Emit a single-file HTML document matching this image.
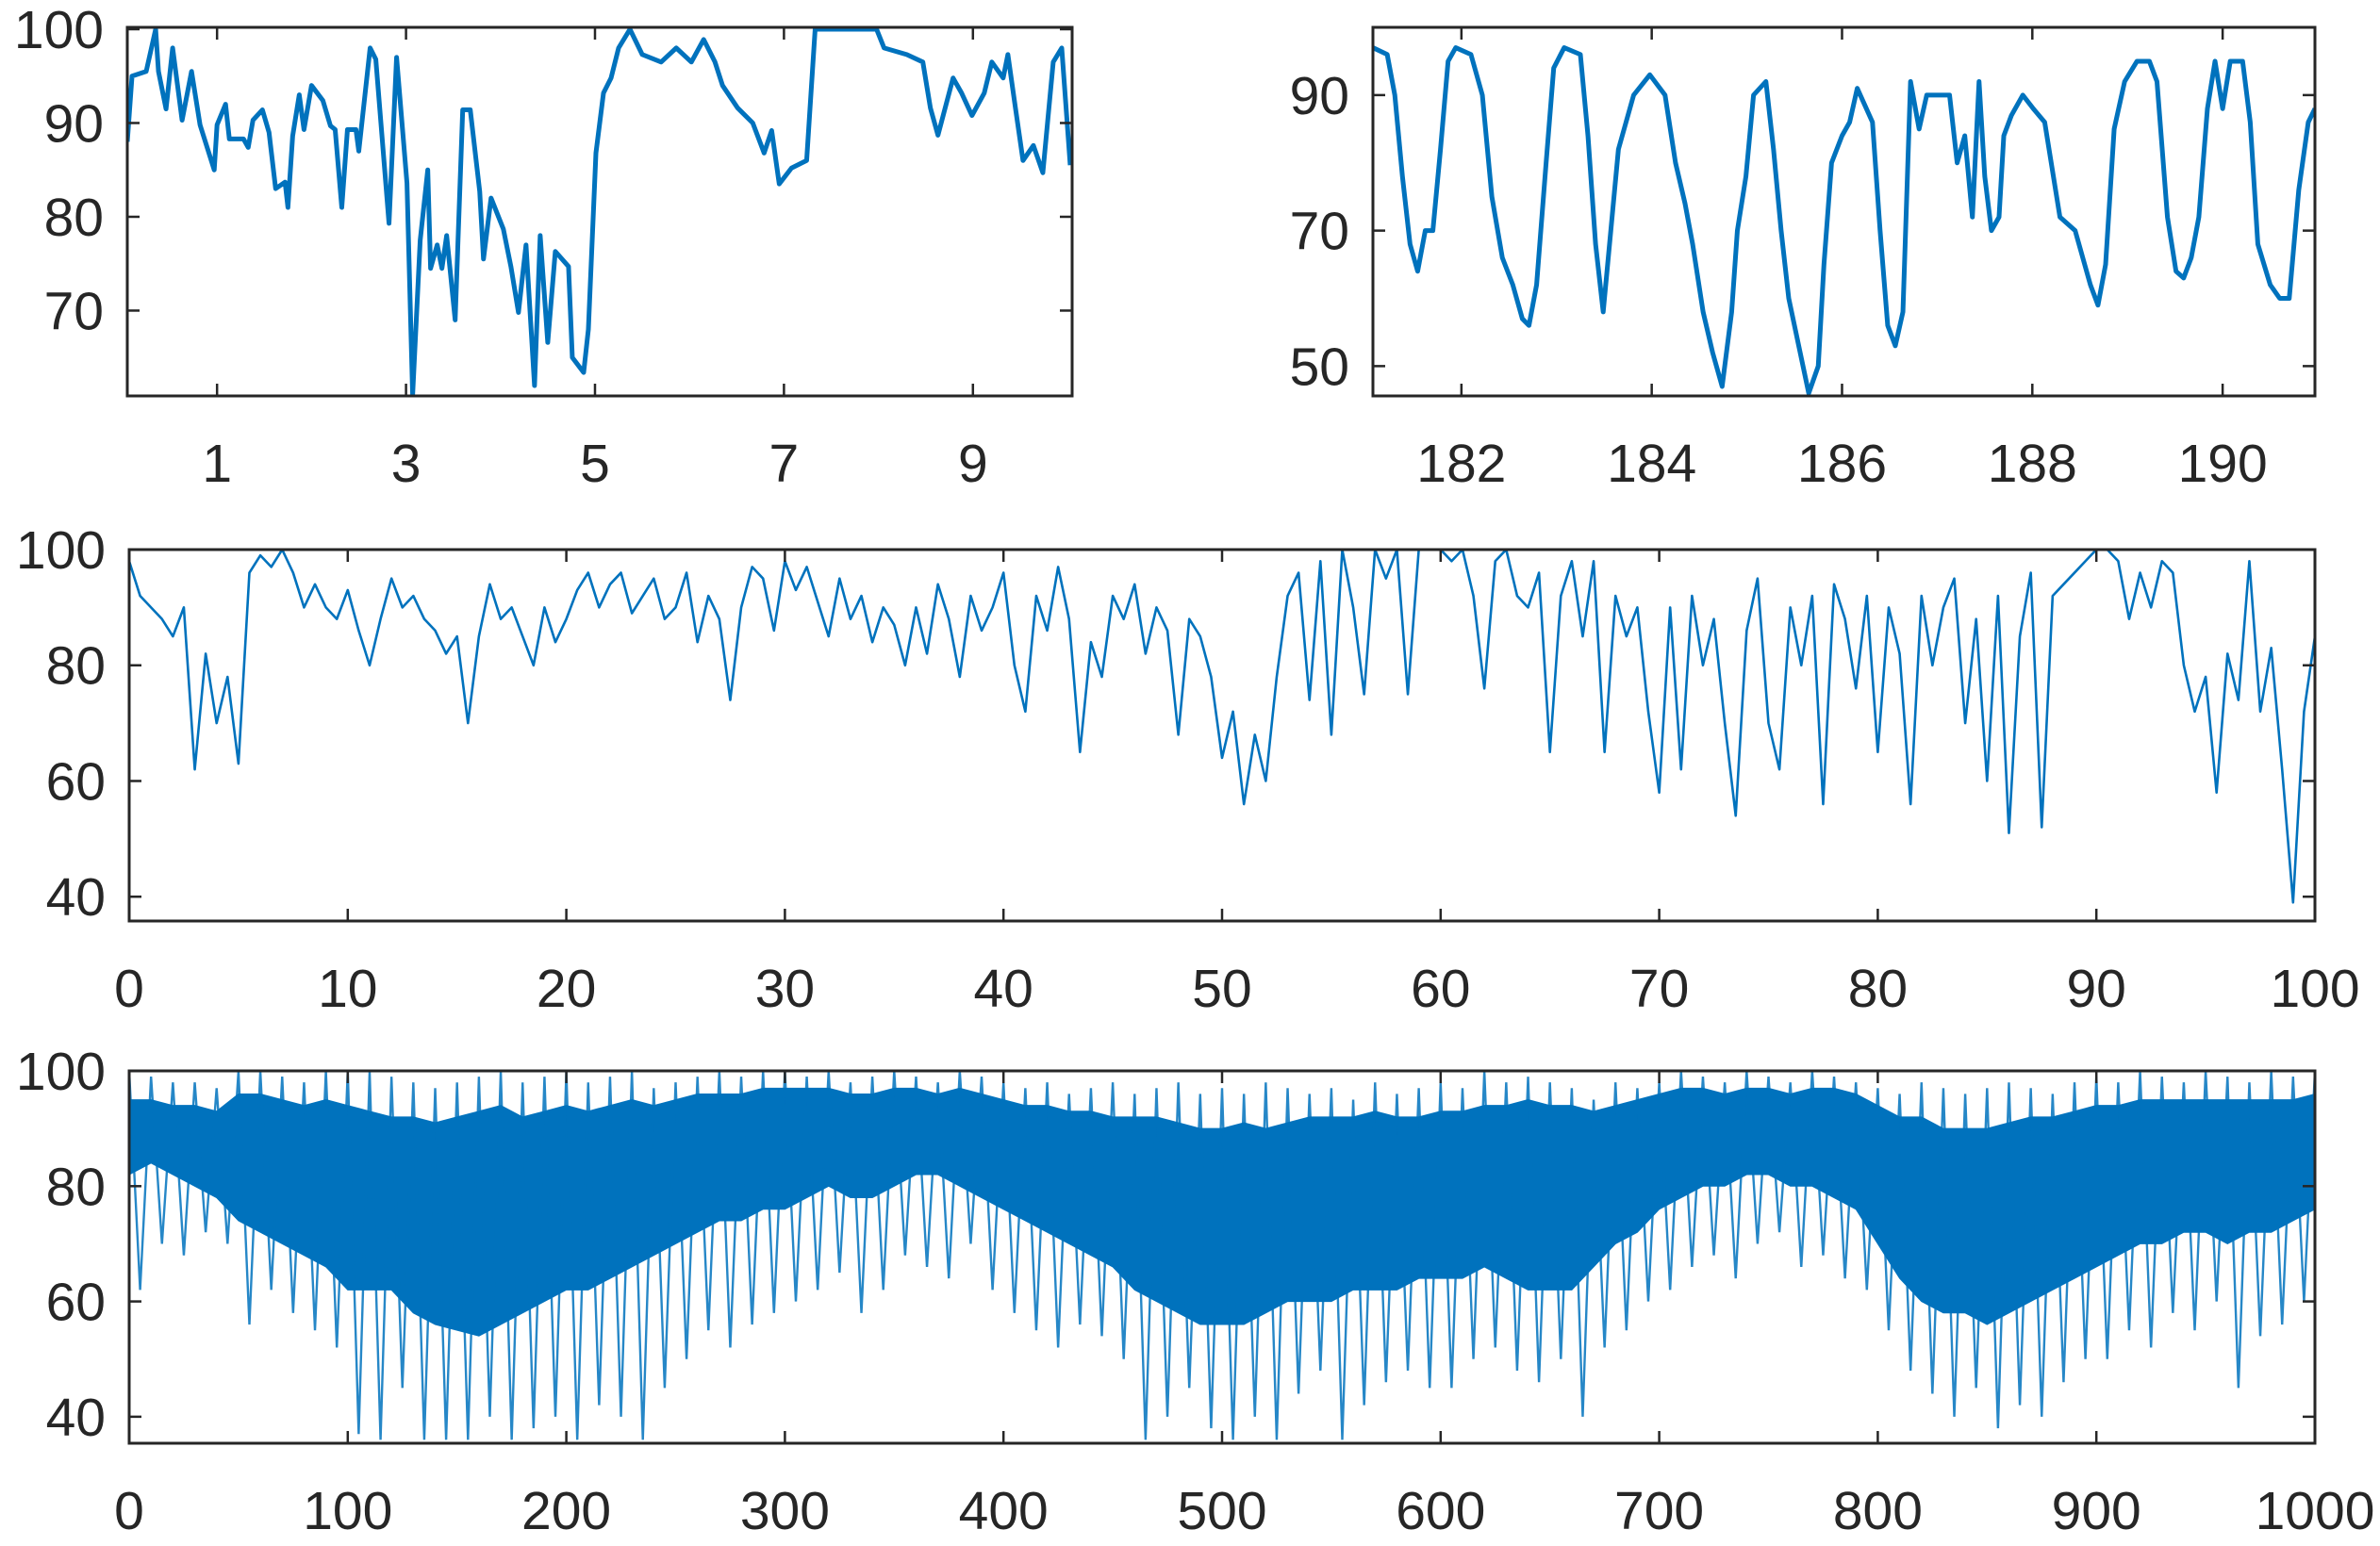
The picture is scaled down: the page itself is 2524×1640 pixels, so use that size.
<!DOCTYPE html>
<html><head><meta charset="utf-8"><style>
html,body{margin:0;padding:0;background:#fff;}
svg{display:block;}
text{font-family:"Liberation Sans",Arial,sans-serif;font-size:57px;fill:#262626;}
</style></head>
<body>
<svg id="fig" width="2524" height="1640" viewBox="0 0 2524 1640" xmlns="http://www.w3.org/2000/svg"></svg>
<script>
// ---- Data: panel 1 (top-left, zoom 0-10) ----
const p1X = [0.05,0.1,0.25,0.35,0.38,0.46,0.53,0.63,0.73,0.82,0.97,1.0,1.09,1.13,1.28,1.33,1.38,1.48,1.55,1.62,1.72,1.75,1.8,1.87,1.92,2.0,2.12,2.2,2.25,2.32,2.38,2.47,2.5,2.62,2.68,2.82,2.9,3.01,3.07,3.15,3.23,3.26,3.33,3.38,3.43,3.52,3.6,3.68,3.78,3.82,3.9,4.03,4.11,4.19,4.27,4.36,4.42,4.5,4.58,4.72,4.76,4.88,4.93,5.01,5.09,5.17,5.25,5.37,5.5,5.7,5.86,6.02,6.15,6.27,6.35,6.51,6.67,6.79,6.87,6.95,7.08,7.24,7.33,7.65,7.98,8.06,8.3,8.47,8.55,8.63,8.79,8.88,8.99,9.12,9.2,9.32,9.37,9.45,9.53,9.64,9.74,9.85,9.94,10.03];
const p1Y = [88,95,95.5,100,95.5,91.5,98,90.3,95.5,89.8,85,89.8,92,88.3,88.3,87.4,90.3,91.4,89,83,83.7,81,88.6,93,89.3,94,92.4,89.7,89.3,81,89.3,89.3,87,98,96.8,79.3,97,83.6,61,77.5,85,74.5,77,74.5,78,69,91.4,91.4,82.7,75.5,82,78.7,74.7,69.8,77,62,78,66.6,76.3,74.7,65,63.4,68,86.8,93.2,94.8,98,100,97.3,96.5,98,96.5,98.9,96.5,94,91.6,90,86.8,89.2,83.5,85.2,86,100,100,100,98,97.3,96.5,91.6,88.7,94.8,93.2,90.8,93.2,96.5,94.8,97.3,91.6,86,87.6,84.7,96.5,98,85.5];
const p1XTicks = [1,3,5,7,9];
const p1YTicks = [70,80,90,100];
// ---- Data: panel 2 (top-right, zoom 181-191) ----
const p2X = [181.07,181.22,181.3,181.38,181.46,181.54,181.62,181.7,181.78,181.86,181.94,182.1,182.22,182.32,182.43,182.54,182.64,182.71,182.79,182.89,182.97,183.08,183.25,183.33,183.41,183.49,183.57,183.65,183.73,183.81,183.98,184.14,184.25,184.35,184.43,184.54,184.64,184.74,184.84,184.9,184.99,185.07,185.2,185.28,185.36,185.44,185.56,185.65,185.75,185.81,185.89,186.0,186.08,186.16,186.32,186.4,186.48,186.56,186.64,186.72,186.81,186.89,187.13,187.21,187.29,187.37,187.44,187.5,187.57,187.65,187.7,187.78,187.9,188.01,188.13,188.29,188.45,188.53,188.61,188.69,188.77,188.86,188.97,189.1,189.23,189.31,189.42,189.51,189.59,189.67,189.75,189.84,189.92,190.0,190.08,190.21,190.29,190.37,190.5,190.6,190.7,190.8,190.9,190.97];
const p2Y = [97,96,90,78,68,64,70,70,82,95,97,96,90,75,66,62,57,56,62,80,94,97,96,84,68,58,70,82,86,90,93,90,80,74,68,58,52,47,58,70,78,90,92,82,70,60,52,46,50,65,80,84,86,91,86,70,56,53,58,92,85,90,90,80,84,72,92,78,70,72,84,87,90,88,86,72,70,66,62,59,65,85,92,95,95,92,72,64,63,66,72,88,95,88,95,95,86,68,62,60,60,76,86,88];
const p2XTicks = [182,184,186,188,190];
const p2YTicks = [50,70,90];
// ---- Data: panel 3 (middle, 0-100) ----
const p3Start = 0, p3Step = 0.5;
const p3Y = [98,92,90,88,85,90,62,82,70,78,63,96,99,97,100,96,90,94,90,88,93,86,80,88,95,90,92,88,86,82,85,70,85,94,88,90,85,80,90,84,88,93,96,90,94,96,89,92,95,88,90,96,84,92,88,74,90,97,95,86,98,93,97,91,85,95,88,92,84,90,87,80,90,82,94,88,78,92,86,90,96,80,72,92,86,97,88,65,84,78,92,88,94,82,90,86,68,88,85,78,64,72,56,68,60,78,92,96,74,98,68,100,90,75,100,95,100,75,100,100,100,98,100,92,76,98,100,92,90,96,65,92,98,85,98,65,92,85,90,72,58,90,62,92,80,88,70,54,86,95,70,62,90,80,92,56,94,88,76,92,65,90,82,56,92,80,90,95,70,88,60,92,51,85,96,52,92,94,96,98,100,100,98,88,96,90,98,96,80,72,78,58,82,74,98,72,83,62,39,72,85];
const p3XTicks = [0,10,20,30,40,50,60,70,80,90,100];
const p3YTicks = [40,60,80,100];
// ---- Data: panel 4 (bottom, 0-1000), per 10-unit bin ----
const p4BinStart = 0, p4BinStep = 10;
const p4Peak = [100,99,98,98,97,100,100,99,98,100, 100,100,99,98,97,98,99,100,98,99, 100,98,99,100,97,98,99,100,99,100, 100,99,100,98,99,100,99,98,100,99, 98,97,98,96,97,98,96,97,98,96, 97,96,98,97,96,97,95,98,96,97, 98,97,100,98,99,98,97,95,98,97, 98,100,99,98,100,99,98,100,99,98, 97,96,98,97,96,97,98,97,96,98, 99,98,100,99,98,100,99,98,100,99,100];
const p4Trough = [62,70,68,72,70,56,62,58,55,52, 37,36,45,36,36,36,40,36,38,40, 36,42,40,36,45,50,55,52,56,58, 60,62,65,58,62,68,66,64,70,62, 58,55,52,56,54,50,36,40,45,38, 36,40,36,44,48,36,42,46,48,45, 45,50,52,48,46,50,40,52,55,60, 62,66,68,64,70,72,66,68,64,62, 55,48,44,40,45,38,42,40,46,50, 50,55,52,58,55,60,45,54,56,60,70];
const p4CoreHi = [95,95,94,94,93,96,96,95,94,95, 94,93,92,92,91,92,93,94,92,93, 94,93,94,95,94,95,96,96,96,97, 97,97,97,96,96,97,97,96,97,96, 95,94,94,93,93,92,92,92,91,90, 90,91,90,91,92,92,92,93,92,92, 93,93,94,94,95,94,94,93,94,95, 96,97,97,96,97,97,96,97,97,96, 94,92,92,90,90,90,91,92,92,93, 94,94,95,95,95,95,95,95,95,95,96];
const p4CoreLo = [82,84,82,80,78,74,72,70,68,66, 62,62,62,58,56,55,54,56,58,60, 62,62,64,66,68,70,72,74,74,76, 76,78,80,78,78,80,82,82,80,78, 76,74,72,70,68,66,62,60,58,56, 56,56,58,60,60,60,62,62,62,64, 64,64,66,64,62,62,62,66,70,72, 76,78,80,80,82,82,80,80,78,76, 70,64,60,58,58,56,58,60,62,64, 66,68,70,70,72,72,70,72,72,74,76];
const p4XTicks = [0,100,200,300,400,500,600,700,800,900,1000];
const p4YTicks = [40,60,80,100];

const NS = "http://www.w3.org/2000/svg";
const svg = document.getElementById('fig');
const BLUE = "#0072BD", AX = "#262626";
function mk(tag, attrs, parent){ const e = document.createElementNS(NS, tag); for (const k in attrs) e.setAttribute(k, attrs[k]); (parent||svg).appendChild(e); return e; }
function linear(d0,d1,r0,r1){ return v => r0 + (v-d0)/(d1-d0)*(r1-r0); }

function makeAxes(id, box, xd, yd, xticks, yticks){
  const g = mk('g', {});
  
  
  const sx = linear(xd[0], xd[1], box.l, box.r);
  const sy = linear(yd[0], yd[1], box.b, box.t);
  const cp = mk('clipPath', {id: id+'-clip'}, g);
  mk('rect', {x: box.l, y: box.t, width: box.r-box.l, height: box.b-box.t}, cp);
  const plot = mk('g', {'clip-path': 'url(#'+id+'-clip)'}, g);
  
  
  const tl = 13;
  xticks.forEach(v => {
    const x = sx(v);
    const t1 = mk('line', {x1:x, x2:x, y1:box.b, y2:box.b-tl, stroke:AX, 'stroke-width':2.5}, g);
    
    
    const t2 = mk('line', {x1:x, x2:x, y1:box.t, y2:box.t+tl, stroke:AX, 'stroke-width':2.5}, g);
    
    
    const lb = mk('text', {x:x, y:box.b+72, 'text-anchor':'middle', 'dominant-baseline':'central'}, g);
    lb.textContent = v;
    
    
  });
  yticks.forEach(v => {
    const y = sy(v);
    const t1 = mk('line', {x1:box.l, x2:box.l+tl, y1:y, y2:y, stroke:AX, 'stroke-width':2.5}, g);
    
    
    const t2 = mk('line', {x1:box.r, x2:box.r-tl, y1:y, y2:y, stroke:AX, 'stroke-width':2.5}, g);
    
    
    const lb = mk('text', {x:box.l-25, y:y+1, 'text-anchor':'end', 'dominant-baseline':'central'}, g);
    lb.textContent = v;
    
    
  });
  const fr = mk('rect', {x:box.l, y:box.t, width:box.r-box.l, height:box.b-box.t, fill:'none', stroke:AX, 'stroke-width':3}, g);
  
  
  return {sx, sy, plot};
}

// Panel 1
const a1 = makeAxes('top-left-axes', {l:135,r:1137,t:29,b:420}, [0.05,10.05], [60.9,100.2], p1XTicks, p1YTicks);
const l1 = mk('polyline', {points: p1X.map((x,i)=>a1.sx(x)+','+a1.sy(p1Y[i])).join(' '), fill:'none', stroke:BLUE, 'stroke-width':5, 'stroke-linejoin':'round'}, a1.plot);



// Panel 2
const a2 = makeAxes('top-right-axes', {l:1456,r:2455,t:29,b:420}, [181.07,190.97], [45.6,100], p2XTicks, p2YTicks);
const l2 = mk('polyline', {points: p2X.map((x,i)=>a2.sx(x)+','+a2.sy(p2Y[i])).join(' '), fill:'none', stroke:BLUE, 'stroke-width':5, 'stroke-linejoin':'round'}, a2.plot);



// Panel 3
const a3 = makeAxes('middle-axes', {l:137,r:2455,t:583,b:977}, [0,100], [35.8,100], p3XTicks, p3YTicks);
const l3 = mk('polyline', {points: p3Y.map((v,i)=>a3.sx(p3Start+i*p3Step)+','+a3.sy(v)).join(' '), fill:'none', stroke:BLUE, 'stroke-width':2.6, 'stroke-linejoin':'round'}, a3.plot);



// Panel 4
const a4 = makeAxes('bottom-axes', {l:137,r:2455,t:1136,b:1531}, [0,1000], [35.4,100], p4XTicks, p4YTicks);
const upper = p4CoreHi.map((v,i)=>a4.sx(p4BinStart+i*p4BinStep)+','+a4.sy(v));
const lower = p4CoreLo.map((v,i)=>a4.sx(p4BinStart+i*p4BinStep)+','+a4.sy(v)).reverse();
const band = mk('polygon', {points: upper.concat(lower).join(' '), fill:BLUE, stroke:BLUE, 'stroke-width':1}, a4.plot);


const zig = [];
p4Peak.forEach((v,i)=>{
  const x0 = p4BinStart + i*p4BinStep;
  zig.push(a4.sx(x0)+','+a4.sy(v));
  if (i < p4Trough.length) zig.push(a4.sx(x0 + p4BinStep/2)+','+a4.sy(p4Trough[i]));
});
const l4 = mk('polyline', {points: zig.join(' '), fill:'none', stroke:BLUE, 'stroke-width':2.4, 'stroke-opacity':0.85}, a4.plot);


</script>
</body></html>
